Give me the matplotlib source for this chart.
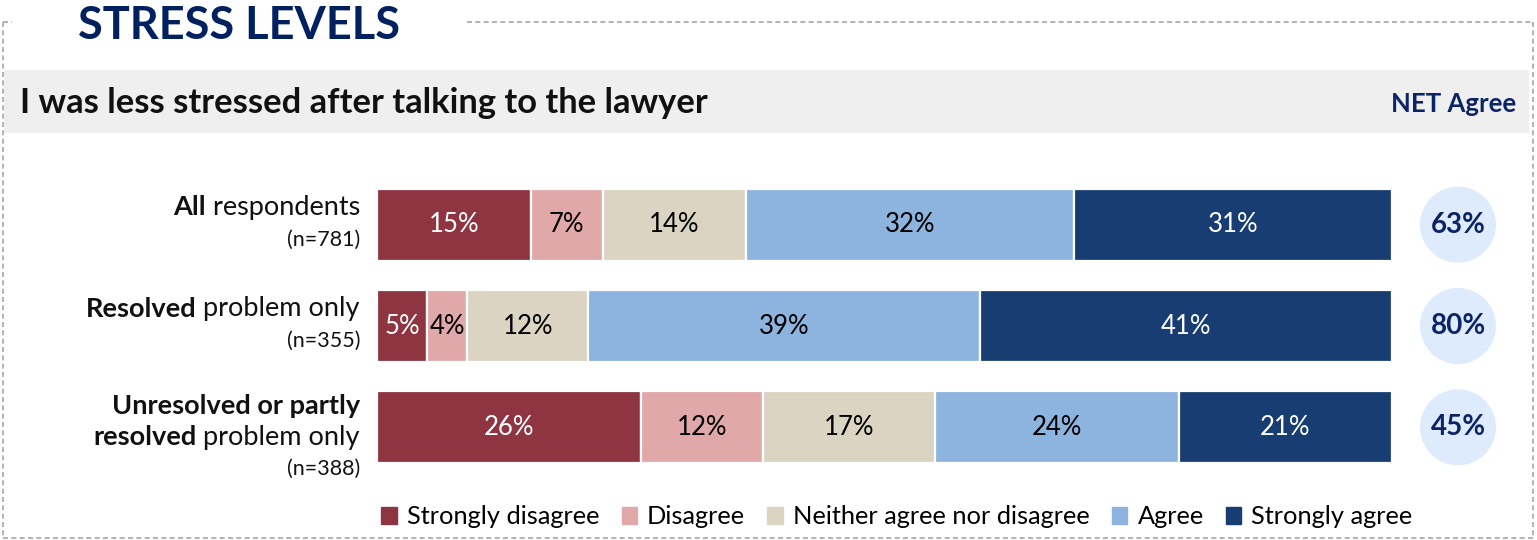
import matplotlib.pyplot as plt
from matplotlib.patches import Rectangle, Ellipse, Patch
from matplotlib.lines import Line2D
import numpy as np

plt.rcParams['font.family'] = ['Lato', 'DejaVu Sans']

# survey results (percent of each group)
responses = ['Strongly disagree', 'Disagree', 'Neither agree nor disagree', 'Agree', 'Strongly agree']
all_resp = [15, 7, 14, 32, 31]
resolved = [5, 4, 12, 39, 41]
unresolved = [26, 12, 17, 24, 21]
net_agree = [63, 80, 45]
sample_sizes = [781, 355, 388]

# group labels: (bold part, regular part) per line
row_lines = [
    [('All', ' respondents')],
    [('Resolved', ' problem only')],
    [('Unresolved or partly', ''), ('resolved', ' problem only')],
]

colors = ['#8f3441', '#e0a8a9', '#dbd4c2', '#8cb4df', '#183d73']
text_colors = ['white', 'black', 'black', 'black', 'white']
NAVY = '#0b2463'

W, H = 1537, 540
fig = plt.figure(figsize=(W / 100, H / 100), dpi=100)


def fx(x):
    return x / W


def fy(y):
    return 1 - y / H


# dashed frame around the panel
dash = dict(color='#a6a6a6', lw=1.2, linestyle=(0, (3, 2)), transform=fig.transFigure)
fig.add_artist(Line2D([fx(3), fx(12)], [fy(22), fy(22)], **dash))
fig.add_artist(Line2D([fx(467), fx(1533)], [fy(22), fy(22)], **dash))
fig.add_artist(Line2D([fx(3), fx(3)], [fy(22), fy(538)], **dash))
fig.add_artist(Line2D([fx(1533), fx(1533)], [fy(22), fy(538)], **dash))
fig.add_artist(Line2D([fx(3), fx(1533)], [fy(538), fy(538)], **dash))

# grey question band
fig.add_artist(Rectangle((fx(4), fy(133)), fx(1529) - fx(4), fy(70) - fy(133),
                         transform=fig.transFigure, color='#efefef', lw=0, zorder=0))

fig.text(fx(78), fy(39), 'STRESS LEVELS', fontsize=32.5, fontweight='bold',
         color='#002060', ha='left', va='baseline')
fig.text(fx(20), fy(113), 'I was less stressed after talking to the lawyer', fontsize=24.8,
         fontweight='bold', color='#111111', ha='left', va='baseline')
fig.text(fx(1516), fy(112), 'NET Agree', fontsize=18.5, fontweight='bold',
         color=NAVY, ha='right', va='baseline')

ax = fig.add_axes([fx(377), fy(478), fx(1392) - fx(377), fy(174) - fy(478)])
ax.set_xlim(0, 100)
ax.set_ylim(2.5, -0.5)
ax.axis('off')

data = np.array([all_resp, resolved, unresolved], dtype=float)
shares = data / data.sum(axis=1, keepdims=True) * 100
lefts = np.cumsum(shares, axis=1) - shares

for i, resp in enumerate(responses):
    ax.barh(np.arange(3), shares[:, i], left=lefts[:, i], height=0.71,
            color=colors[i], edgecolor='white', linewidth=1.6, label=resp)
    for r in range(3):
        ax.text(lefts[r, i] + shares[r, i] / 2, r, f'{int(data[r, i])}%',
                ha='center', va='center', fontsize=18.5, color=text_colors[i])

# NET agree bubbles
px_x = 100 / (fx(1392) - fx(377)) / W
px_y = 3 / (fy(174) - fy(478)) / H
for r, v in enumerate(net_agree):
    ax.add_patch(Ellipse((100 + 66 * px_x, r), 76 * px_x, 76 * px_y,
                         color='#deebfc', lw=0, clip_on=False))
    ax.text(100 + 66 * px_x, r, f'{v}%', ha='center', va='center',
            fontsize=20, fontweight='bold', color=NAVY, clip_on=False)

# group labels with bold lead words; last offset is for the sample size
line_offsets = {1: [-0.17, 0.15], 2: [-0.21, 0.10, 0.41]}
label_x = -17 / 1015
trans = ax.get_yaxis_transform()
for r, lines in enumerate(row_lines):
    offs = line_offsets[len(lines)]
    for (bold, rest), dy in zip(lines, offs):
        t = ax.text(label_x, r + dy, rest, transform=trans, ha='right', va='center',
                    fontsize=19.5, color='#111111')
        ax.annotate(bold, xy=(0, 0.5), xycoords=t, ha='right', va='center',
                    fontsize=19.5, fontweight='bold', color='#111111')
    ax.text(label_x, r + offs[-1], f'(n={sample_sizes[r]})', transform=trans,
            ha='right', va='center', fontsize=15.5, color='#111111')

handles = [Patch(color=c, label=l) for c, l in zip(colors, responses)]
fig.legend(handles=handles, loc='center', bbox_to_anchor=(fx(897), fy(517)), ncol=5,
           frameon=False, fontsize=18.3, handlelength=0.6, handleheight=0.6,
           handletextpad=0.4, columnspacing=0.88, borderaxespad=0)

fig.savefig('out.png', dpi=100)
